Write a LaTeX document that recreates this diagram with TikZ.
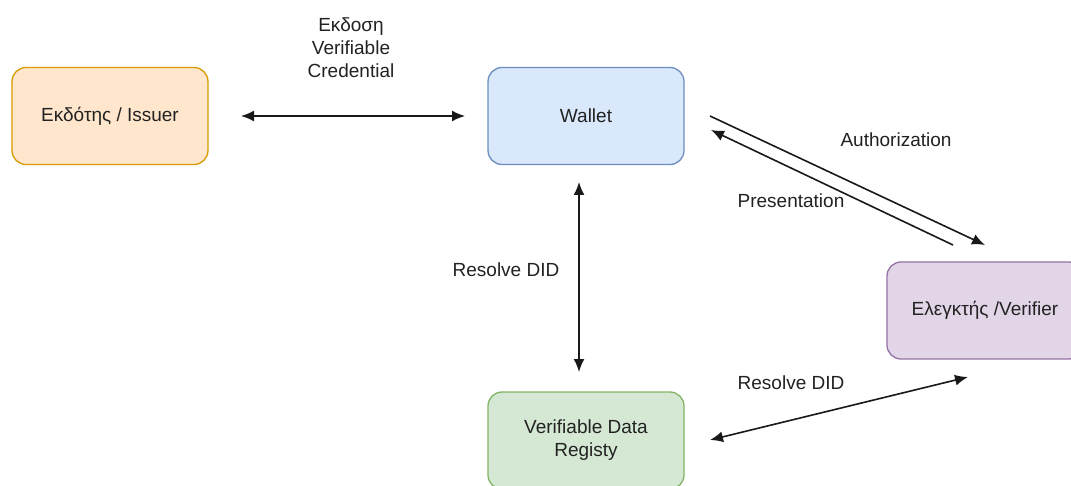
\documentclass[tikz,border=0pt]{standalone}
\usepackage{fontspec}
\setmainfont{Liberation Sans}
\usetikzlibrary{arrows.meta}
\definecolor{issuerfill}{HTML}{FFE6CC}\definecolor{issuerline}{HTML}{D79B00}
\definecolor{walletfill}{HTML}{DAE8FC}\definecolor{walletline}{HTML}{6C8EBF}
\definecolor{regfill}{HTML}{D5E8D4}\definecolor{regline}{HTML}{82B366}
\definecolor{verfill}{HTML}{E1D5E7}\definecolor{verline}{HTML}{9673A6}
\definecolor{inktext}{HTML}{222222}
\begin{document}
\begin{tikzpicture}[x=1pt,y=-1pt,
  every node/.style={font=\fontsize{19}{23}\selectfont, text=inktext},
  entity/.style={draw, rounded corners=14pt, line width=1.3pt, minimum width=196pt, minimum height=97pt, align=center, inner sep=0pt},
  flowlabel/.style={align=center, inner sep=0pt},
  tip/.tip={Latex[length=13pt,width=11pt]},
  link/.style={line width=1.6pt, draw=black!90, tip-tip},
  onelink/.style={line width=1.6pt, draw=black!90, -tip}]
\useasboundingbox (0,0) rectangle (1071,486);
\clip (0,0) rectangle (1071,486);
\fill[white] (0,0) rectangle (1071,486);

% participants
\node[entity, fill=issuerfill, draw=issuerline] (issuer) at (110,116) {Εκδότης / Issuer};
\node[entity, fill=walletfill, draw=walletline] (wallet) at (586,116) {Wallet};
\node[entity, fill=verfill, draw=verline] (verifier) at (985,310.5) {Ελεγκτής /Verifier};
\node[entity, fill=regfill, draw=regline] (registry) at (586,440.5) {Verifiable Data\\Registy};

% connector end points
\coordinate (iw1) at (241,116);   \coordinate (iw2) at (465,116);
\coordinate (wr1) at (579,182);   \coordinate (wr2) at (579,372);
\coordinate (au1) at (710,116);   \coordinate (au2) at (985,245);
\coordinate (pr1) at (953,245);   \coordinate (pr2) at (711,130);
\coordinate (rv1) at (710,440);   \coordinate (rv2) at (968,377);

% connectors
\draw[link] (iw1) -- (iw2);
\draw[link] (wr1) -- (wr2);
\draw[onelink] (au1) -- (au2);
\draw[onelink] (pr1) -- (pr2);
\draw[link] (rv1) -- (rv2);

% labels
\node[flowlabel] (lblissue) at (351,48) {Εκδοση\\Verifiable\\Credential};
\node[flowlabel] (lblresolve1) at (506,270) {Resolve DID};
\node[flowlabel] (lblauth) at (896,140) {Authorization};
\node[flowlabel] (lblpres) at (791,201) {Presentation};
\node[flowlabel] (lblresolve2) at (791,383) {Resolve DID};
\end{tikzpicture}
\end{document}
